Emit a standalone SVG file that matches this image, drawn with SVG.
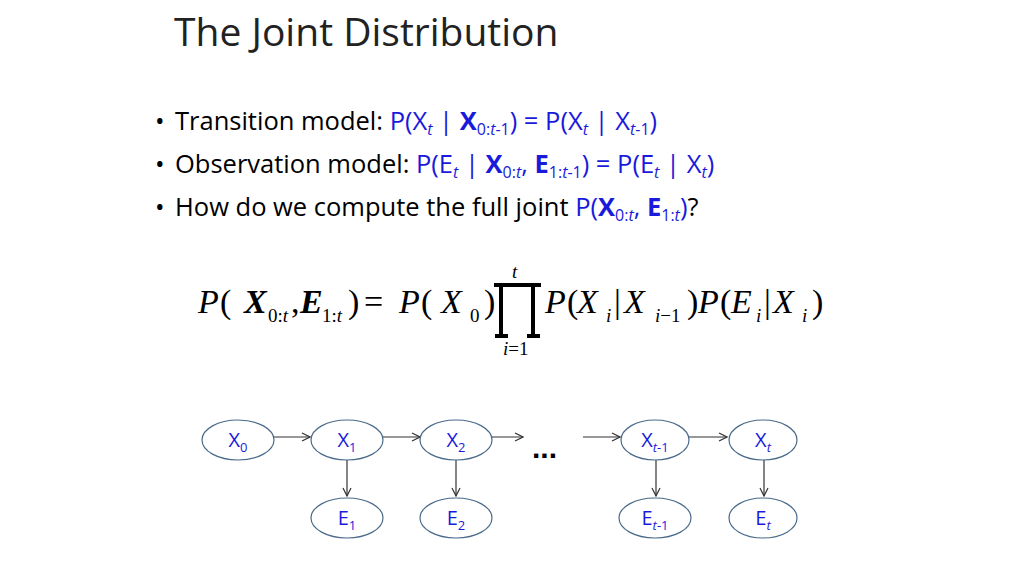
<svg xmlns="http://www.w3.org/2000/svg" width="1024" height="576" viewBox="0 0 1024 576">
<style>
.t{font-family:"Open Sans","Liberation Sans",sans-serif;}
.b{font-size:25.5px;fill:#000;}
.bl{fill:#1a1adc;}
.bo{font-weight:bold;}
.m text{font-family:"Liberation Serif",serif;font-style:italic;font-size:34px;fill:#000;}
.m .s{font-size:19px;}
.m .u{font-style:normal;}
.n ellipse{fill:#fff;stroke:#4a6a8a;stroke-width:1.2;}
.n text{font-family:"Open Sans","Liberation Sans",sans-serif;font-size:20px;fill:#1a1adc;text-anchor:middle;}
#edges line{stroke:#333;stroke-width:1.2;marker-end:url(#a);}
</style>
<defs><marker id="a" markerWidth="10" markerHeight="10" refX="9" refY="5" orient="auto" markerUnits="userSpaceOnUse"><path d="M1,1 L9,5 L1,9" fill="none" stroke="#333" stroke-width="1.2"/></marker></defs>
<rect width="1024" height="576" fill="#fff"/>
<text class="t" x="174" y="46" font-size="39" fill="#222">The Joint Distribution</text>
<g class="t b">
<text x="155" y="130">•</text>
<text x="175" y="130">Transition model: <tspan class="bl">P(X<tspan font-size="16" dy="5" font-style="italic">t</tspan><tspan dy="-5"> | </tspan><tspan class="bo">X</tspan><tspan font-size="16" dy="5">0:<tspan font-style="italic">t</tspan>-1</tspan><tspan dy="-5">) = P(X</tspan><tspan font-size="16" dy="5" font-style="italic">t</tspan><tspan dy="-5"> | X</tspan><tspan font-size="16" dy="5"><tspan font-style="italic">t</tspan>-1</tspan><tspan dy="-5">)</tspan></tspan></text>
<text x="155" y="173">•</text>
<text x="175" y="173">Observation model: <tspan class="bl">P(E<tspan font-size="16" dy="5" font-style="italic">t</tspan><tspan dy="-5"> | </tspan><tspan class="bo">X</tspan><tspan font-size="16" dy="5">0:<tspan font-style="italic">t</tspan></tspan><tspan dy="-5">, </tspan><tspan class="bo">E</tspan><tspan font-size="16" dy="5">1:<tspan font-style="italic">t</tspan>-1</tspan><tspan dy="-5">)  = P(E</tspan><tspan font-size="16" dy="5" font-style="italic">t</tspan><tspan dy="-5"> | X</tspan><tspan font-size="16" dy="5" font-style="italic">t</tspan><tspan dy="-5">)</tspan></tspan></text>
<text x="155" y="216">•</text>
<text x="175" y="216">How do we compute the full joint <tspan class="bl">P(<tspan class="bo">X</tspan><tspan font-size="16" dy="5">0:<tspan font-style="italic">t</tspan></tspan><tspan dy="-5">, </tspan><tspan class="bo">E</tspan><tspan font-size="16" dy="5">1:<tspan font-style="italic">t</tspan></tspan><tspan dy="-5">)</tspan></tspan>?</text>
</g>
<g class="m">
<text x="198" y="313">P</text><text class="u" x="220" y="313">(</text>
<text x="244" y="313" font-weight="bold">X</text>
<text class="s" x="268" y="322"><tspan class="u">0:</tspan>t</text>
<text class="u" x="291" y="313">,</text>
<text x="300" y="313" font-weight="bold">E</text>
<text class="s" x="322" y="322"><tspan class="u">1:</tspan>t</text>
<text class="u" x="348" y="313">)</text>
<text class="u" x="364" y="313">=</text>
<text x="399" y="313">P</text><text class="u" x="421" y="313">(</text>
<text x="441" y="313">X</text>
<text class="s u" x="470" y="322">0</text>
<text class="u" x="484" y="313">)</text>
<path d="M494,285 H541 M501,285 V336 M533,285 V336 M495,336 H508 M527,336 H540" stroke="#000" stroke-width="4" fill="none"/>
<text class="s" x="512" y="278">t</text>
<text class="s" x="503" y="355">i<tspan class="u">=1</tspan></text>
<text x="545" y="313">P</text><text class="u" x="567" y="313">(</text>
<text x="577" y="313">X</text>
<text class="s" x="606" y="322">i</text>
<text class="u" x="614" y="313">|</text>
<text x="624" y="313">X</text>
<text class="s" x="655" y="322">i<tspan class="u">−1</tspan></text>
<text class="u" x="687" y="313">)</text>
<text x="698" y="313">P</text><text class="u" x="720" y="313">(</text>
<text x="731" y="313">E</text>
<text class="s" x="756" y="322">i</text>
<text class="u" x="764" y="313">|</text>
<text x="773" y="313">X</text>
<text class="s" x="802" y="322">i</text>
<text class="u" x="812" y="313">)</text>
</g>
<g id="edges">
<line x1="273" y1="437" x2="310" y2="437"/>
<line x1="382" y1="437" x2="420" y2="437"/>
<line x1="490" y1="437" x2="523" y2="437"/>
<line x1="583" y1="437" x2="620" y2="437"/>
<line x1="688" y1="437" x2="727" y2="437"/>
<line x1="347" y1="460" x2="347" y2="496"/>
<line x1="456" y1="460" x2="456" y2="496"/>
<line x1="656" y1="460" x2="656" y2="496"/>
<line x1="764" y1="460" x2="764" y2="496"/>
</g>
<text x="532" y="458" font-family="Liberation Sans,sans-serif" font-size="30" font-weight="bold">...</text>
<g id="X0" class="n"><ellipse cx="238" cy="440" rx="36" ry="20"/><text x="238" y="447">X<tspan font-size="13" dy="5">0</tspan></text></g>
<g id="X1" class="n"><ellipse cx="347" cy="440" rx="36" ry="20"/><text x="347" y="447">X<tspan font-size="13" dy="5">1</tspan></text></g>
<g id="X2" class="n"><ellipse cx="456" cy="440" rx="36" ry="20"/><text x="456" y="447">X<tspan font-size="13" dy="5">2</tspan></text></g>
<g id="Xt1" class="n"><ellipse cx="655" cy="440" rx="34" ry="20"/><text x="655" y="447">X<tspan font-size="13" dy="5"><tspan font-style="italic">t</tspan>-1</tspan></text></g>
<g id="Xt" class="n"><ellipse cx="763" cy="440" rx="34" ry="20"/><text x="763" y="447">X<tspan font-size="13" dy="5" font-style="italic">t</tspan></text></g>
<g id="E1" class="n"><ellipse cx="347" cy="518" rx="36" ry="20"/><text x="347" y="525">E<tspan font-size="13" dy="5">1</tspan></text></g>
<g id="E2" class="n"><ellipse cx="456" cy="518" rx="36" ry="20"/><text x="456" y="525">E<tspan font-size="13" dy="5">2</tspan></text></g>
<g id="Et1" class="n"><ellipse cx="655" cy="518" rx="36" ry="20"/><text x="655" y="525">E<tspan font-size="13" dy="5"><tspan font-style="italic">t</tspan>-1</tspan></text></g>
<g id="Et" class="n"><ellipse cx="763" cy="518" rx="34" ry="20"/><text x="763" y="525">E<tspan font-size="13" dy="5" font-style="italic">t</tspan></text></g>
</svg>
